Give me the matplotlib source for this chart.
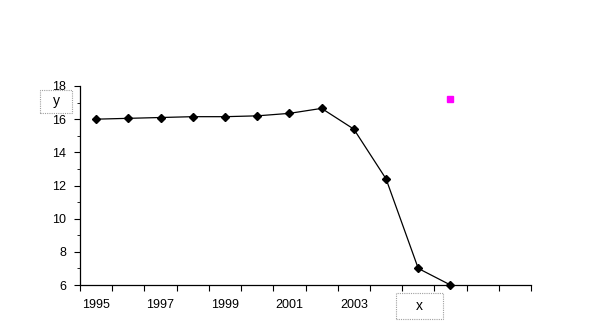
import matplotlib
matplotlib.use("Agg")
import matplotlib.pyplot as plt
from matplotlib.lines import Line2D
from matplotlib.patches import Rectangle
from matplotlib.ticker import MultipleLocator

plt.rcParams['font.family'] = ['Liberation Sans', 'DejaVu Sans']

# category axis (one slot per year), data only for the first 12 years
years = list(range(1995, 2009))
values = [16.0, 16.05, 16.1, 16.15, 16.15, 16.2, 16.35, 16.65, 15.4, 12.4, 7.0, 6.0]
label_years = [1995, 1997, 1999, 2001, 2003]
y_ticks = [6, 8, 10, 12, 14, 16, 18]

W, H = 611, 326
fig = plt.figure(figsize=(W / 100, H / 100), dpi=100)
ax = fig.add_axes([80 / W, 41 / H, 451 / W, 199 / H])

xs = list(range(len(values)))
ax.plot(xs, values, color="black", lw=0.9, marker="D", markersize=4,
        markerfacecolor="black", markeredgecolor="black", clip_on=False)

ax.set_xlim(-0.5, len(years) - 0.5)
ax.set_ylim(6, 18)

# ticks between categories, labels at category centres
ax.set_xticks([i - 0.5 for i in range(len(years) + 1)])
ax.set_xticklabels([])
ax.set_xticks([years.index(y) for y in label_years], minor=True)
ax.set_xticklabels([str(y) for y in label_years], minor=True)
ax.tick_params(axis="x", which="major", direction="out", length=4, width=0.8)
ax.tick_params(axis="x", which="minor", length=0, pad=10, labelsize=9)

ax.set_yticks(y_ticks)
ax.yaxis.set_minor_locator(MultipleLocator(1))
ax.tick_params(axis="y", which="major", direction="out", length=4, width=0.8,
               labelsize=9, pad=6)
ax.tick_params(axis="y", which="minor", direction="out", length=2, width=0.6)

for s in ["top", "right"]:
    ax.spines[s].set_visible(False)
for s in ["left", "bottom"]:
    ax.spines[s].set_color("black")
    ax.spines[s].set_linewidth(0.9)


def title_box(x0, y0, x1, y1, text):
    # dotted frame in pixel coordinates (top-left origin), text centred
    fig.add_artist(Rectangle((x0 / W, 1 - y1 / H), (x1 - x0) / W, (y1 - y0) / H,
                             transform=fig.transFigure, fill=False,
                             edgecolor="#a0a0a0", linestyle=(0, (1, 1)), linewidth=0.8))
    fig.text((x0 + x1) / 2 / W, 1 - (y0 + y1) / 2 / H, text,
             ha="center", va="center", fontsize=10)


title_box(40, 90, 72, 113, "y")
title_box(396, 293, 443, 319, "x")

# lone legend marker
handle = Line2D([], [], marker="s", color="#FF00FF", linestyle="none", markersize=5)
fig.legend([handle], [""], loc="center", bbox_to_anchor=(450 / W, 1 - 100 / H),
           frameon=False, handlelength=0.5, handletextpad=0, borderpad=0)

fig.savefig("out.png", dpi=100)
